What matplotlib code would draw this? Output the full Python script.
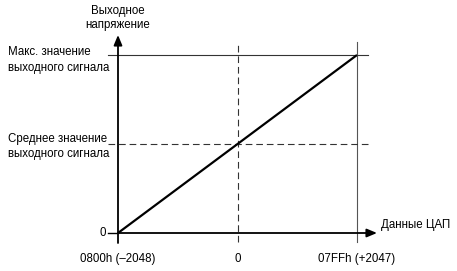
"""
DAC transfer characteristic: output voltage vs. DAC code
"""

import matplotlib

matplotlib.use("Agg")
import matplotlib.pyplot as plt

# DAC codes (signed) and the normalised output they give
dac_codes: list[int] = [-2048, 0, 2047]
output_level: list[float] = [0.0, 0.5, 1.0]

x_tick_labels: list[str] = ["0800h (\u20132048)", "0", "07FFh (+2047)"]
y_levels: list[float] = [1.0, 0.5, 0.0]
y_tick_labels: list[str] = [
    "Макс. значение\nвыходного сигнала",
    "Среднее значение\nвыходного сигнала",
    "0",
]
x_axis_title: str = "Данные ЦАП"
y_axis_title: str = "Выходное\nнапряжение"

plt.rcParams["font.family"] = ["Liberation Sans", "DejaVu Sans"]
FS = 8.3

fig = plt.figure(figsize=(4.57, 2.71), dpi=100)
ax = fig.add_axes([0, 0, 1, 1])
ax.set_axis_off()

# pixel -> data scale so the drawing lands where it does in the picture
units_per_px = (dac_codes[-1] - dac_codes[0]) / 239.0
ax.set_xlim(dac_codes[0] - 118 * units_per_px, dac_codes[-1] + 100 * units_per_px)
ax.set_ylim(-38 / 178.0, 1 + 55 / 178.0)

x0, x_mid, x_max = dac_codes
y_zero, y_mid, y_max = y_levels[2], y_levels[1], y_levels[0]
px = units_per_px
py = 1 / 178.0

# axes with arrow heads
arrow = dict(arrowstyle="-|>,head_length=0.6,head_width=0.25",
             color="black", lw=1.3, shrinkA=0, shrinkB=0)
ax.annotate("", xy=(x0, y_max + 20 * py), xytext=(x0, y_zero - 10 * py),
            arrowprops=arrow)
ax.annotate("", xy=(x_max + 20 * px, y_zero), xytext=(x0, y_zero),
            arrowprops=arrow)
ax.plot([x0 - 10 * px, x0], [y_zero, y_zero], color="black", lw=1.0)

# max level and max code guides
ax.plot([x0 - 10 * px, x_max + 11 * px], [y_max, y_max], color="#333333", lw=0.8)
ax.plot([x_max, x_max], [-9 * py, y_max + 13 * py], color="#555555", lw=0.8)

# mid level and zero code guides
ax.plot([x0 - 10 * px, x_max + 13 * px], [y_mid, y_mid], color="#333333",
        lw=0.8, dashes=(6, 3.5))
ax.plot([x_mid, x_mid], [-9 * py, y_max + 13 * py], color="#333333",
        lw=0.8, dashes=(6, 3.5))

# transfer line
ax.plot(dac_codes, output_level, color="black", lw=1.6, solid_capstyle="butt")

# labels
for code, label in zip(dac_codes, x_tick_labels):
    ax.text(code, -26 * py, label, ha="center", va="center", fontsize=FS)

ax.text(x0 - 110 * px, y_max - 5 * py, y_tick_labels[0], ha="left",
        va="center", fontsize=FS, linespacing=1.35)
ax.text(x0 - 110 * px, y_mid - 2.5 * py, y_tick_labels[1], ha="left",
        va="center", fontsize=FS, linespacing=1.35)
ax.text(x0 - 15 * px, y_zero, y_tick_labels[2], ha="center", va="center",
        fontsize=FS)

ax.text(x_max + 24 * px, 8 * py, x_axis_title, ha="left", va="center",
        fontsize=FS)
ax.text(x0, y_max + 37 * py, y_axis_title, ha="center", va="center",
        fontsize=FS, linespacing=1.3)

fig.savefig("out.png", dpi=100)
